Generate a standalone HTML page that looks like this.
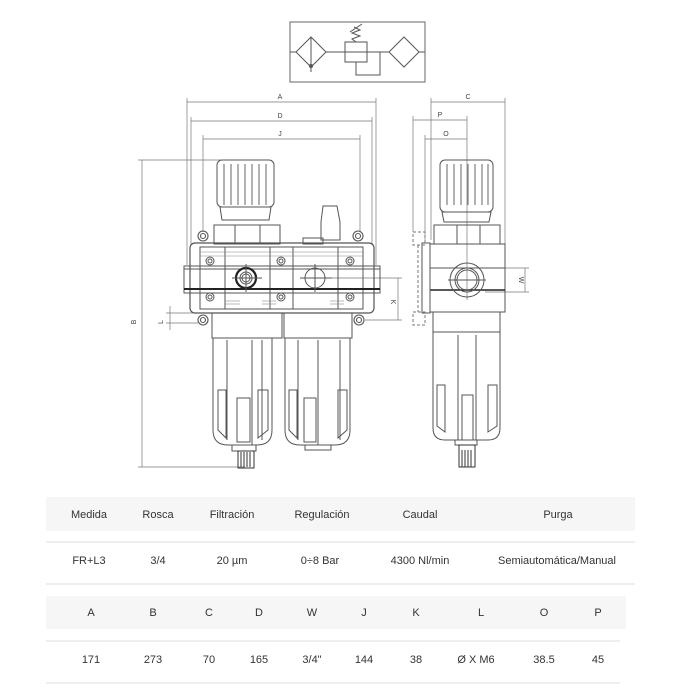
<!DOCTYPE html>
<html><head><meta charset="utf-8"><style>
html,body{margin:0;padding:0;background:#fff;width:700px;height:700px;overflow:hidden}
svg{position:absolute;left:0;top:0}
text{font-family:"Liberation Sans",sans-serif}
</style></head><body>
<svg width="700" height="700" viewBox="0 0 700 700" xmlns="http://www.w3.org/2000/svg">
<g fill="none" stroke="#555" stroke-width="1">
<!-- symbol -->
<rect x="290" y="22" width="135" height="60" stroke="#666"/>
<line x1="290" y1="52" x2="425" y2="52"/>
<polygon points="311,37 326,52 311,67 296,52" fill="#fff"/>
<line x1="311" y1="37" x2="311" y2="72"/>
<circle cx="311" cy="66" r="1.5" fill="#555"/>
<rect x="345" y="42" width="22" height="20" fill="#fff"/>
<line x1="345" y1="52" x2="425" y2="52"/>
<polyline points="356,42 352,39 360,36 352,33 360,30 354,27"/>
<line x1="350" y1="32" x2="362" y2="24"/>
<polyline points="356,62 356,75 380,75 380,52"/>
<polygon points="404,37 419,52 404,67 389,52" fill="#fff"/>

<!-- front view dimensions -->
<g stroke="#777" stroke-width="0.7">
<line x1="187" y1="102" x2="376" y2="102"/><line x1="187" y1="98" x2="187" y2="265"/><line x1="376" y1="98" x2="376" y2="265"/>
<line x1="191" y1="121" x2="372" y2="121"/><line x1="191" y1="117" x2="191" y2="245"/><line x1="372" y1="117" x2="372" y2="245"/>
<line x1="203" y1="139" x2="360" y2="139"/><line x1="203" y1="135" x2="203" y2="232"/><line x1="360" y1="135" x2="360" y2="232"/>
<line x1="142" y1="160" x2="142" y2="467"/><line x1="138" y1="160" x2="245" y2="160"/><line x1="138" y1="467" x2="245" y2="467"/>
<line x1="170" y1="306" x2="170" y2="330"/><line x1="166" y1="313" x2="198" y2="313"/><line x1="166" y1="323" x2="198" y2="323"/>
<line x1="398" y1="278" x2="398" y2="320"/><line x1="330" y1="278" x2="402" y2="278"/><line x1="365" y1="320" x2="402" y2="320"/>
</g>
<!-- knob -->
<rect x="217" y="160" width="57" height="47" rx="5"/>
<g stroke="#666"><line x1="224" y1="164" x2="224" y2="205"/><line x1="231" y1="164" x2="231" y2="205"/><line x1="238" y1="164" x2="238" y2="205"/><line x1="245" y1="164" x2="245" y2="205"/><line x1="252" y1="164" x2="252" y2="205"/><line x1="259" y1="164" x2="259" y2="205"/><line x1="266" y1="164" x2="266" y2="205"/></g>
<path d="M220 207 L271 207 L269 220 L222 220 Z"/>
<rect x="214" y="225" width="66" height="19"/>
<line x1="235" y1="225" x2="235" y2="244"/><line x1="260" y1="225" x2="260" y2="244"/>
<!-- fill cap -->
<path d="M321 222 L323 206 L337 206 L340 222 L340 240 L321 240 Z"/>
<rect x="303" y="238" width="20" height="6"/>
<!-- body -->
<rect x="190" y="243" width="184" height="70" rx="5" stroke-width="1.2"/>
<rect x="184" y="266" width="196" height="27"/>
<rect x="200" y="247" width="163" height="62"/>
<line x1="225" y1="247" x2="225" y2="309"/><line x1="270" y1="247" x2="270" y2="309"/><line x1="293" y1="247" x2="293" y2="309"/><line x1="338" y1="247" x2="338" y2="309"/>
<line x1="184" y1="269" x2="380" y2="269"/>
<line x1="184" y1="289" x2="380" y2="289" stroke="#222" stroke-width="2"/>
<g stroke="#888" stroke-width="0.6">
<line x1="200" y1="252" x2="363" y2="252"/><line x1="200" y1="256" x2="363" y2="256"/>
<line x1="225" y1="301" x2="240" y2="301"/><line x1="225" y1="304" x2="240" y2="304"/><line x1="262" y1="301" x2="276" y2="301"/><line x1="262" y1="304" x2="276" y2="304"/>
<line x1="330" y1="301" x2="344" y2="301"/><line x1="330" y1="304" x2="344" y2="304"/>
</g>
<g><circle cx="210" cy="261" r="4"/><circle cx="210" cy="261" r="2"/><circle cx="281" cy="261" r="4"/><circle cx="281" cy="261" r="2"/><circle cx="350" cy="261" r="4"/><circle cx="350" cy="261" r="2"/>
<circle cx="210" cy="297" r="4"/><circle cx="210" cy="297" r="2"/><circle cx="281" cy="297" r="4"/><circle cx="281" cy="297" r="2"/><circle cx="350" cy="297" r="4"/><circle cx="350" cy="297" r="2"/></g>
<circle cx="246" cy="278" r="10" stroke="#222" stroke-width="2.2"/><circle cx="246" cy="278" r="6"/><circle cx="246" cy="278" r="4"/>
<line x1="232" y1="278" x2="262" y2="278"/><line x1="246" y1="264" x2="246" y2="292"/>
<circle cx="315" cy="278" r="10"/><line x1="300" y1="278" x2="332" y2="278"/><line x1="315" y1="264" x2="315" y2="292"/>
<g stroke-width="1.1"><circle cx="203" cy="236" r="5"/><circle cx="203" cy="236" r="2.5"/><circle cx="358" cy="236" r="5"/><circle cx="358" cy="236" r="2.5"/>
<circle cx="203" cy="320" r="5"/><circle cx="203" cy="320" r="2.5"/><circle cx="359" cy="320" r="5"/><circle cx="359" cy="320" r="2.5"/></g>
<!-- bowls -->
<rect x="212" y="313" width="70" height="25"/><rect x="284" y="313" width="68" height="25"/>
<path d="M213 338 L272 338 L272 430 Q272 445 257 445 L228 445 Q213 445 213 430 Z"/>
<path d="M285 338 L350 338 L350 430 Q350 445 335 445 L300 445 Q285 445 285 430 Z"/>
<path d="M227 340 L227 440 M252 340 L252 445 M262 340 L262 440"/>
<path d="M218 390 L226 390 L226 438 L218 430 Z M258 390 L268 390 L268 430 L258 438 Z M237 398 L250 398 L250 442 L237 442 Z"/>
<path d="M298 340 L298 440 M318 340 L318 445 M340 340 L340 440"/>
<path d="M289 390 L297 390 L297 438 L289 430 Z M338 390 L347 390 L347 430 L338 438 Z M304 398 L316 398 L316 442 L304 442 Z"/>
<rect x="232" y="445" width="24" height="6"/><rect x="305" y="445" width="26" height="5"/>
<rect x="238" y="451" width="16" height="17" stroke="#333"/>
<g stroke="#333"><line x1="241" y1="452" x2="241" y2="467"/><line x1="244" y1="452" x2="244" y2="467"/><line x1="247" y1="452" x2="247" y2="467"/><line x1="250" y1="452" x2="250" y2="467"/></g>

<!-- side view -->
<g stroke="#777" stroke-width="0.7">
<line x1="431" y1="102" x2="505" y2="102"/><line x1="431" y1="98" x2="431" y2="240"/><line x1="505" y1="98" x2="505" y2="245"/>
<line x1="413" y1="120" x2="467" y2="120"/><line x1="413" y1="116" x2="413" y2="232"/><line x1="467" y1="116" x2="467" y2="300"/>
<line x1="425" y1="139" x2="467" y2="139"/><line x1="425" y1="135" x2="425" y2="240"/>
<line x1="525" y1="268" x2="525" y2="292"/><line x1="485" y1="268" x2="529" y2="268"/><line x1="485" y1="292" x2="529" y2="292"/>
</g>
<rect x="440" y="160" width="53" height="52" rx="5"/>
<g stroke="#666"><line x1="447" y1="164" x2="447" y2="205"/><line x1="454" y1="164" x2="454" y2="205"/><line x1="461" y1="164" x2="461" y2="205"/><line x1="468" y1="164" x2="468" y2="205"/><line x1="475" y1="164" x2="475" y2="205"/><line x1="482" y1="164" x2="482" y2="205"/><line x1="488" y1="164" x2="488" y2="205"/></g>
<path d="M442 212 L491 212 L489 222 L444 222 Z"/>
<rect x="434" y="225" width="66" height="19"/>
<line x1="457" y1="225" x2="457" y2="244"/><line x1="480" y1="225" x2="480" y2="244"/>
<rect x="430" y="244" width="75" height="68"/>
<line x1="430" y1="268" x2="505" y2="268"/><line x1="430" y1="290" x2="505" y2="290" stroke="#222" stroke-width="1.6"/>
<circle cx="467" cy="280" r="17"/><circle cx="467" cy="280" r="12"/><circle cx="467" cy="280" r="10"/>
<line x1="448" y1="280" x2="486" y2="280"/>
<rect x="422" y="243" width="8" height="70"/>
<g stroke-dasharray="3,2" stroke="#777"><rect x="413" y="232" width="12" height="13"/><rect x="413" y="312" width="12" height="13"/><line x1="418" y1="245" x2="418" y2="312"/></g>
<rect x="433" y="312" width="67" height="20"/>
<path d="M433 332 L500 332 L500 428 Q500 440 488 440 L445 440 Q433 440 433 428 Z"/>
<path d="M458 335 L458 440 M476 335 L476 440"/>
<path d="M437 385 L445 385 L445 432 L437 426 Z M488 385 L497 385 L497 426 L488 432 Z M462 395 L473 395 L473 440 L462 440 Z"/>
<rect x="455" y="440" width="22" height="5"/>
<rect x="459" y="445" width="16" height="22" stroke="#333"/>
<g stroke="#333"><line x1="462" y1="450" x2="462" y2="467"/><line x1="465" y1="450" x2="465" y2="467"/><line x1="468" y1="450" x2="468" y2="467"/><line x1="471" y1="450" x2="471" y2="467"/></g>
</g>
<g font-size="7" fill="#444" text-anchor="middle">
<text x="280" y="99">A</text><text x="280" y="118">D</text><text x="280" y="136">J</text>
<text x="468" y="99">C</text><text x="440" y="117">P</text><text x="446" y="136">O</text>
<text x="136" y="322" transform="rotate(-90 136 322)">B</text>
<text x="163" y="322" transform="rotate(-90 163 322)">L</text>
<text x="391" y="302" transform="rotate(90 391 302)">K</text>
<text x="519" y="280" transform="rotate(90 519 280)">W</text>
</g>

<!-- tables -->
<rect x="46" y="497" width="589" height="34" fill="#f6f6f6"/>
<line x1="46" y1="542" x2="635" y2="542" stroke="#ddd"/>
<line x1="46" y1="584" x2="635" y2="584" stroke="#ddd"/>
<rect x="46" y="596" width="580" height="33" fill="#f6f6f6"/>
<line x1="46" y1="641" x2="620" y2="641" stroke="#ddd"/>
<line x1="46" y1="683" x2="620" y2="683" stroke="#ddd"/>
<g font-size="11" fill="#333" text-anchor="middle">
<text x="89" y="518">Medida</text><text x="158" y="518">Rosca</text><text x="232" y="518">Filtración</text><text x="322" y="518">Regulación</text><text x="420" y="518">Caudal</text><text x="558" y="518">Purga</text>
<text x="89" y="564">FR+L3</text><text x="158" y="564">3/4</text><text x="232" y="564">20 µm</text><text x="320" y="564">0÷8 Bar</text><text x="420" y="564">4300 Nl/min</text><text x="557" y="564">Semiautomática/Manual</text>
<text x="91" y="616">A</text><text x="153" y="616">B</text><text x="209" y="616">C</text><text x="259" y="616">D</text><text x="312" y="616">W</text><text x="364" y="616">J</text><text x="416" y="616">K</text><text x="481" y="616">L</text><text x="544" y="616">O</text><text x="598" y="616">P</text>
<text x="91" y="663">171</text><text x="153" y="663">273</text><text x="209" y="663">70</text><text x="259" y="663">165</text><text x="312" y="663">3/4"</text><text x="364" y="663">144</text><text x="416" y="663">38</text><text x="476" y="663">Ø X M6</text><text x="544" y="663">38.5</text><text x="598" y="663">45</text>
</g>
</svg>
</body></html>
